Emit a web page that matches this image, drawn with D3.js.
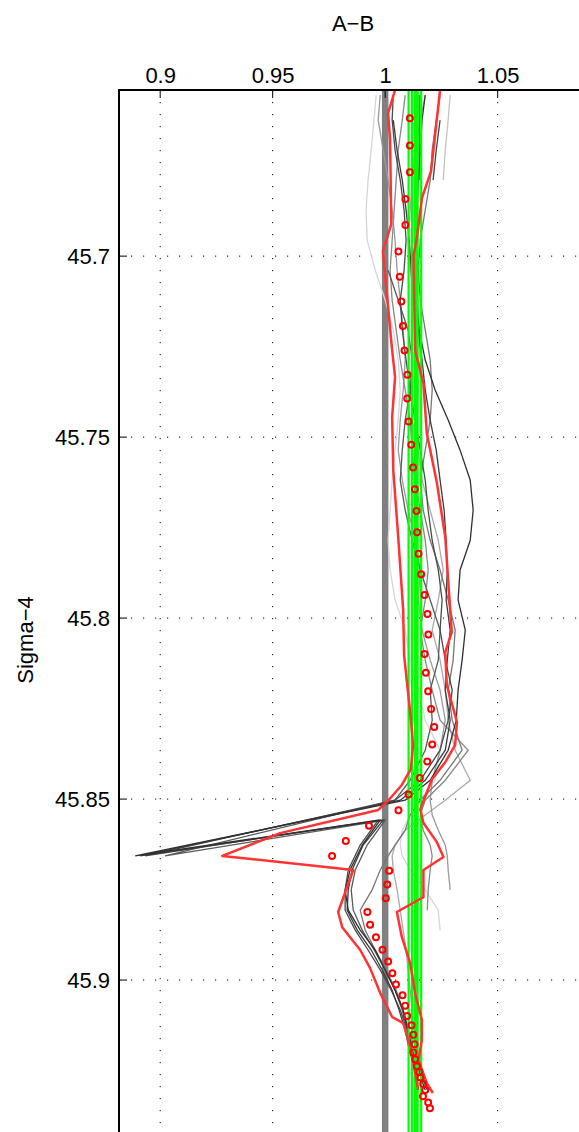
<!DOCTYPE html>
<html>
<head>
<meta charset="utf-8">
<script src="https://cdn.jsdelivr.net/npm/d3@7"></script>
<style>
  body { margin: 0; background: #fff; overflow: hidden; }
  svg { display: block; font-family: "Liberation Sans", Arial, Helvetica, sans-serif; }
</style>
</head>
<body>
<svg id="chart" width="579" height="1132"></svg>
<script>
// tick values
let xTicks = [0.9, 0.95, 1, 1.05];
let yTicks = [45.7, 45.75, 45.8, 45.85, 45.9];

// red circles: mean profile
let meanX = [1.0110, 1.0110, 1.0110, 1.0090, 1.0090, 1.0059, 1.0065, 1.0072, 1.0079, 1.0086,
  1.0099, 1.0098, 1.0104, 1.0116, 1.0124, 1.0132, 1.0139, 1.0142, 1.0148, 1.0160,
  1.0175, 1.0188, 1.0192, 1.0175, 1.0181, 1.0191, 1.0204, 1.0218, 1.0209, 1.0187,
  1.0154, 1.0104, 1.0059, 0.9928, 0.9825, 0.9764, 1.0018, 1.0009, 1.0003, 0.9921,
  0.9933, 0.9959, 0.9988, 1.0013, 1.0032, 1.0048, 1.0077, 1.0089, 1.0098, 1.0117,
  1.0125, 1.0131, 1.0126, 1.0133, 1.0141, 1.0151, 1.0157, 1.0169, 1.0178, 1.0168,
  1.0191, 1.0199];
let meanY = [45.6619, 45.6694, 45.6768, 45.6842, 45.6914, 45.6987, 45.7057, 45.7125, 45.7193, 45.7261,
  45.7328, 45.7393, 45.7457, 45.7521, 45.7584, 45.7644, 45.7704, 45.7763, 45.7822, 45.7879,
  45.7936, 45.7989, 45.8045, 45.8099, 45.8151, 45.8202, 45.8251, 45.8301, 45.8349, 45.8396,
  45.8442, 45.8487, 45.8531, 45.8574, 45.8616, 45.8657, 45.8698, 45.8736, 45.8774, 45.8812,
  45.8847, 45.8882, 45.8916, 45.8949, 45.8981, 45.9012, 45.9042, 45.9071, 45.9099, 45.9125,
  45.9151, 45.9177, 45.9200, 45.9219, 45.9238, 45.9254, 45.9269, 45.9287, 45.9304, 45.9321,
  45.9338, 45.9354];

// red envelope lines
let minLine = [[1.0044, 45.6541], [1.0013, 45.6605], [1.0022, 45.6680], [1.0027, 45.6912], [0.9990, 45.6986],
  [1.0030, 45.7254], [1.0044, 45.7334], [1.0031, 45.7445], [1.0036, 45.7591], [1.0058, 45.7776],
  [1.0080, 45.7978], [1.0084, 45.8102], [1.0111, 45.8260], [1.0124, 45.8351], [1.0114, 45.8417],
  [1.0074, 45.8461], [1.0008, 45.8508], [0.9969, 45.8530], [0.9533, 45.8594], [0.9276, 45.8657],
  [0.9858, 45.8696], [0.9791, 45.8812], [0.9809, 45.8854], [0.9889, 45.8917], [0.9933, 45.8967],
  [0.9978, 45.9036], [1.0031, 45.9102], [1.0080, 45.9119], [1.0116, 45.9193], [1.0133, 45.9257],
  [1.0147, 45.9304]];
let maxLine = [[1.0244, 45.6541], [1.0204, 45.6765], [1.0163, 45.6840], [1.0141, 45.6950], [1.0126, 45.6997],
  [1.0133, 45.7260], [1.0170, 45.7351], [1.0185, 45.7489], [1.0230, 45.7627], [1.0267, 45.7776],
  [1.0289, 45.7978], [1.0296, 45.8039], [1.0267, 45.8094], [1.0274, 45.8185], [1.0319, 45.8287],
  [1.0311, 45.8351], [1.0267, 45.8398], [1.0208, 45.8445], [1.0156, 45.8528], [1.0170, 45.8566],
  [1.0230, 45.8619], [1.0259, 45.8660], [1.0170, 45.8696], [1.0170, 45.8771], [1.0052, 45.8812],
  [1.0074, 45.8881], [1.0111, 45.8953], [1.0133, 45.9036], [1.0163, 45.9110], [1.0163, 45.9166],
  [1.0148, 45.9221], [1.0185, 45.9285], [1.0212, 45.9312]];

// reference value and green band
let refX = 1;
let greenX = [1.0104, 1.0119, 1.0138, 1.0160];

// member profiles
let levels = [45.6555, 45.6624, 45.6707, 45.6790, 45.6873, 45.6956, 45.7039, 45.7122, 45.7204, 45.7287,
  45.7370, 45.7453, 45.7536, 45.7619, 45.7702, 45.7785, 45.7867, 45.7950, 45.8033, 45.8116,
  45.8199, 45.8282, 45.8365, 45.8448, 45.8503, 45.8544, 45.8586, 45.8627, 45.8657, 45.8696,
  45.8751, 45.8807, 45.8862, 45.8917, 45.8972, 45.9028, 45.9083, 45.9138, 45.9193, 45.9249,
  45.9304];
// members that fold back in sigma near 45.866
let spikeLevels = [45.6555, 45.6624, 45.6707, 45.6790, 45.6873, 45.6956, 45.7039, 45.7122, 45.7204, 45.7287,
  45.7370, 45.7453, 45.7536, 45.7619, 45.7702, 45.7785, 45.7867, 45.7950, 45.8033, 45.8116,
  45.8199, 45.8282, 45.8365, 45.8448, 45.8503, 45.8657, 45.8558, 45.8627, 45.8696, 45.8751,
  45.8807, 45.8862, 45.8917, 45.8972, 45.9028, 45.9083, 45.9138, 45.9193, 45.9249, 45.9304];
let n = null;
let memberA = [1.0178, 1.0164, 1.0156, 1.0147, 1.0142, 1.0138, 1.0138, 1.0142, 1.0151, 1.0178, 1.0222, 1.0280, 1.0333, 1.0378, 1.0391, 1.0378, 1.0333, 1.0324, 1.0356, 1.0342, 1.0324, 1.0316, 1.0280, 1.0200, 1.0089, 0.8889, 0.9978, 0.9898, 0.9844, 0.9822, 0.9836, 0.9889, 0.9956, 1.0000, 1.0044, 1.0080, 1.0102, 1.0120, 1.0147, 1.0178];
let memberB = [n, 1.0036, 1.0053, 1.0076, 1.0093, 1.0107, 1.0116, 1.0129, 1.0147, 1.0164, 1.0178, 1.0200, 1.0227, 1.0244, 1.0262, 1.0271, 1.0276, 1.0271, 1.0289, 1.0276, 1.0267, 1.0289, 1.0267, 1.0178, 1.0067, 0.8911, 0.9991, 0.9902, 0.9853, 0.9836, 0.9831, 0.9876, 0.9938, 0.9987, 1.0031, 1.0062, 1.0089, 1.0107, 1.0133, n];
let memberC = [1.0036, 1.0031, 1.0044, 1.0067, 1.0084, 1.0093, 1.0084, 1.0067, 1.0076, 1.0093, 1.0111, 1.0133, 1.0156, 1.0178, 1.0191, 1.0209, 1.0236, 1.0253, 1.0244, 1.0267, 1.0298, 1.0280, 1.0244, 1.0156, 1.0044, 0.8933, 0.9969, 0.9889, 0.9836, 0.9822, 0.9822, 0.9867, 0.9924, 0.9978, 1.0027, 1.0067, 1.0098, 1.0120, 1.0151, 1.0187];
let memberD = [n, n, n, n, n, n, 1.0013, 1.0058, 1.0102, 1.0120, 1.0111, 1.0089, 1.0076, 1.0067, 1.0089, 1.0120, 1.0156, 1.0200, 1.0244, 1.0236, 1.0200, 1.0209, 1.0178, 1.0111, 1.0044, 0.9022, 1.0000, 0.9920, 0.9867, 0.9849, 0.9858, 0.9898, 0.9951, 1.0000, 1.0044, 1.0076, 1.0098, 1.0116, 1.0138, n];
let memberE = [1.0244, 1.0227, 1.0209, 1.0200, 1.0178, 1.0156, 1.0147, 1.0156, 1.0178, 1.0200, 1.0209, 1.0200, 1.0178, 1.0156, 1.0169, 1.0200, 1.0244, 1.0280, 1.0311, 1.0302, 1.0280, 1.0298, 1.0342, 1.0244, 1.0156, 1.0111, 1.0089, 1.0044, 1.0013, 0.9978, 0.9942, 0.9889, 0.9911, 0.9956, 1.0004, 1.0049, 1.0080, 1.0102, 1.0120, n, n];
let memberF = [1.0089, 1.0076, 1.0058, 1.0049, 1.0040, 1.0031, 1.0022, 1.0031, 1.0049, 1.0067, 1.0089, 1.0111, 1.0120, 1.0133, 1.0156, 1.0178, 1.0191, 1.0178, 1.0156, 1.0178, 1.0209, 1.0244, 1.0369, 1.0267, 1.0178, 1.0156, 1.0169, 1.0200, 1.0209, 1.0200, 1.0191, 1.0187, n, n, n, n, n, n, n, n, n];
let memberG = [0.9978, 0.9969, 0.9991, 1.0013, 1.0031, 1.0044, 1.0053, 1.0067, 1.0080, 1.0089, 1.0080, 1.0067, 1.0058, 1.0076, 1.0102, 1.0133, 1.0156, 1.0147, 1.0164, 1.0200, 1.0244, 1.0267, 1.0244, 1.0209, 1.0200, 1.0209, 1.0236, 1.0267, 1.0276, 1.0280, 1.0289, n, n, n, n, n, n, n, n, n, n];
let memberH = [1.0178, 1.0156, 1.0133, 1.0120, 1.0111, 1.0102, 1.0111, 1.0129, 1.0147, 1.0156, 1.0147, 1.0138, 1.0147, 1.0164, 1.0200, 1.0236, 1.0258, 1.0236, 1.0209, 1.0244, 1.0267, 1.0280, 1.0311, 1.0378, 1.0267, 1.0178, 1.0089, 1.0044, 1.0031, 1.0036, 1.0053, 1.0067, 1.0080, 1.0093, 1.0102, 1.0111, 1.0120, 1.0124, n, n, n];
let memberI = [1.0289, 1.0280, 1.0267, 1.0258, n, n, n, n, n, n, n, n, n, n, n, n, n, n, n, n, n, n, n, n, n, n, n, n, n, n, n, n, n, n, n, n, n, n, n, n, n];
let memberJ = [0.9960, 0.9950, 0.9938, 0.9924, 0.9915, 0.9920, 0.9956, 1.0000, 1.0036, 1.0058, 1.0067, 1.0058, 1.0044, 1.0031, 1.0022, 1.0013, 1.0022, 1.0044, 1.0089, 1.0111, 1.0147, 1.0178, 1.0244, 1.0222, 1.0156, 1.0111, 1.0076, 1.0067, 1.0076, 1.0111, 1.0178, 1.0236, 1.0244, n, n, n, n, n, n, n, n];
let memberK = [n, 1.0244, 1.0227, 1.0213, n, n, n, n, n, n, n, n, n, n, n, n, n, n, n, n, n, n, n, n, n, n, n, n, n, n, n, n, n, n, n, n, n, n, n, n, n];
let memberL = [1.0151, 1.0151, 1.0151, 1.0151, n, n, n, n, n, n, n, n, n, n, n, n, n, n, n, n, n, n, n, n, n, n, n, n, n, n, n, n, n, n, n, n, n, n, n, n, n];

let members = [
  { values: memberJ, ys: levels, color: "#d6d6d6" },
  { values: memberI, ys: levels, color: "#c4c4c4" },
  { values: memberH, ys: levels, color: "#aaaaaa" },
  { values: memberG, ys: levels, color: "#999999" },
  { values: memberF, ys: levels, color: "#888888" },
  { values: memberE, ys: levels, color: "#777777" },
  { values: memberD, ys: spikeLevels, color: "#5a5a5a" },
  { values: memberL, ys: levels, color: "#555555" },
  { values: memberC, ys: spikeLevels, color: "#4a4a4a" },
  { values: memberK, ys: levels, color: "#444444" },
  { values: memberB, ys: spikeLevels, color: "#3c3c3c" },
  { values: memberA, ys: spikeLevels, color: "#303030" }
];

let margin = { left: 119, top: 90 };
let svg = d3.select("#chart");

let x = d3.scaleLinear().domain([0.8817, 1.0897]).range([margin.left, margin.left + 468]);
let y = d3.scaleLinear().domain([45.6541, 45.958]).range([margin.top, margin.top + 1100]);

let plot = svg.append("g");

// dotted grid
plot.selectAll(".gx").data(xTicks).enter().append("line")
  .attr("x1", d => x(d)).attr("x2", d => x(d))
  .attr("y1", y.range()[0]).attr("y2", y.range()[1])
  .attr("style", "stroke: #000; stroke-width: 1; stroke-dasharray: 1.2,10.8;");
plot.selectAll(".gy").data(yTicks).enter().append("line")
  .attr("x1", x.range()[0]).attr("x2", x.range()[1])
  .attr("y1", d => y(d)).attr("y2", d => y(d))
  .attr("style", "stroke: #000; stroke-width: 1; stroke-dasharray: 1.2,10.8;");

// reference line at 1
plot.append("line")
  .attr("x1", x(refX)).attr("x2", x(refX))
  .attr("y1", y.range()[0]).attr("y2", y.range()[1])
  .attr("style", "stroke: #808080; stroke-width: 6.5;");

let memberLine = d3.line()
  .defined(d => d[0] !== null)
  .x(d => x(d[0]))
  .y(d => y(d[1]));

members.forEach(m => {
  plot.append("path")
    .datum(m.values.map((v, i) => [v, m.ys[i]]))
    .attr("style", `stroke: ${m.color}; stroke-width: 1.3; fill: none;`)
    .attr("d", memberLine);
});

// green band
plot.selectAll(".green").data(greenX).enter().append("line")
  .attr("x1", d => x(d)).attr("x2", d => x(d))
  .attr("y1", y.range()[0]).attr("y2", y.range()[1])
  .attr("style", (d, i) => `stroke: #00ff00; stroke-width: ${i === 2 ? 5 : 2.2};`);

let envLine = d3.line().x(d => x(d[0])).y(d => y(d[1]));
[minLine, maxLine].forEach(l => {
  plot.append("path")
    .datum(l)
    .attr("style", "stroke: #ff3333; stroke-width: 2.5; fill: none; stroke-linejoin: round;")
    .attr("d", envLine);
});

plot.selectAll(".mean").data(meanX.map((v, i) => [v, meanY[i]])).enter().append("circle")
  .attr("cx", d => x(d[0]))
  .attr("cy", d => y(d[1]))
  .attr("r", 3)
  .attr("style", "stroke: #ff0000; stroke-width: 2; fill: none;");

// axes
let xAxis = d3.axisTop(x).tickValues(xTicks).tickSize(0).tickPadding(7).tickFormat(d => d);
let yAxis = d3.axisLeft(y).tickValues(yTicks).tickSize(0).tickPadding(9).tickFormat(d => d);

let gx = svg.append("g").attr("transform", `translate(0,${margin.top})`).call(xAxis);
let gy = svg.append("g").attr("transform", `translate(${margin.left},0)`).call(yAxis);
gx.select(".domain").remove();
gy.select(".domain").remove();
svg.selectAll(".tick > text").style("font-size", "22px").attr("fill", "#000");

// inward tick marks
svg.selectAll(".tx").data(xTicks).enter().append("line")
  .attr("x1", d => x(d)).attr("x2", d => x(d))
  .attr("y1", margin.top).attr("y2", margin.top + 8)
  .attr("style", "stroke: #000; stroke-width: 1;");
svg.selectAll(".ty").data(yTicks).enter().append("line")
  .attr("x1", margin.left).attr("x2", margin.left + 8)
  .attr("y1", d => y(d)).attr("y2", d => y(d))
  .attr("style", "stroke: #000; stroke-width: 1;");

// frame
svg.append("rect")
  .attr("x", x.range()[0]).attr("y", y.range()[0])
  .attr("width", x.range()[1] - x.range()[0])
  .attr("height", y.range()[1] - y.range()[0])
  .attr("style", "stroke: #000; stroke-width: 2; fill: none;");

svg.append("text")
  .attr("x", (x.range()[0] + x.range()[1]) / 2)
  .attr("y", 31)
  .attr("text-anchor", "middle")
  .style("font-size", "22px")
  .text("A−B");

svg.append("text")
  .attr("transform", `translate(33,${(y.range()[0] + y.range()[1]) / 2}) rotate(-90)`)
  .attr("text-anchor", "middle")
  .style("font-size", "22px")
  .text("Sigma−4");
</script>
</body>
</html>
